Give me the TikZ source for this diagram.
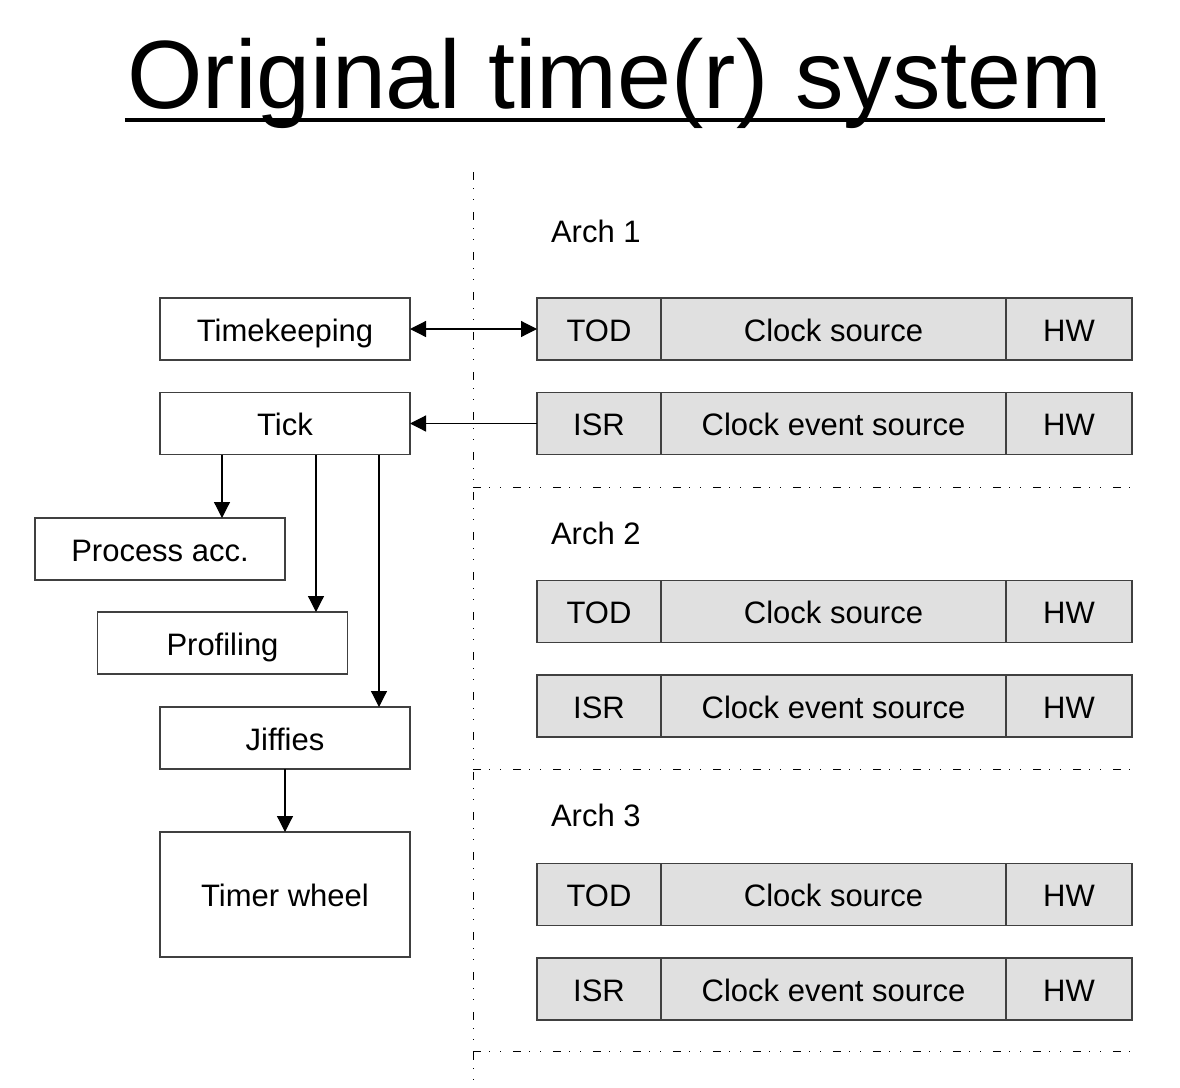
\documentclass[tikz,border=0pt]{standalone}
\usepackage{fontspec}
\setmainfont{Liberation Sans}
\usepackage{tikz}
\usetikzlibrary{positioning}
\usetikzlibrary{arrows.meta}

\begin{document}
\begin{tikzpicture}[x=0.5pt,y=-0.5pt,
  box/.style={draw=black!75,line width=0.6pt,inner sep=0pt,outer sep=0pt,minimum width=125pt,minimum height=31pt,text height=12pt,text depth=0pt,font=\fontsize{15.5}{18}\selectfont},
  part/.style={box,fill=black!12},
  conn/.style={-{Triangle[length=8pt,width=8pt]},line width=0.6pt},
  sep/.style={line width=0.5pt,dash pattern=on 4pt off 4pt on 0.6pt off 5pt on 0.6pt off 5.8pt}]
\useasboundingbox (0,0) rectangle (1180,1088);
% title
\node[anchor=base,inner sep=0pt,font=\fontsize{48.5}{58}\selectfont] (title) at (615,108) {Original time(r) system};
\draw[line width=2pt] ([xshift=-1pt,yshift=-6pt]title.base west) -- ([xshift=1pt,yshift=-6pt]title.base east);
% generic side
\node[box] at (285,329) (tk) {Timekeeping};
\node[box] at (285,423.5) (tick) {Tick};
\node[box] at (160,549) (pacc) {Process acc.};
\node[box] at (222.5,643) (prof) {Profiling};
\node[box] at (285,738) (jif) {Jiffies};
\node[box,minimum height=62.5pt] at (285,894.5) (tw) {Timer wheel};
% arch side
\node[anchor=base west,font=\fontsize{15.5}{18}\selectfont] at (544,242) (archone) {Arch 1};
\node[part,minimum width=62pt] at (599,329) (todone) {TOD};
\node[part,minimum width=172.5pt,right=0pt of todone] (csone) {Clock source};
\node[part,minimum width=63pt,right=0pt of csone] (hwone) {HW};
\node[part,minimum width=62pt] at (599,423.5) (isrone) {ISR};
\node[part,minimum width=172.5pt,right=0pt of isrone] (cesone) {Clock event source};
\node[part,minimum width=63pt,right=0pt of cesone] (hwonee) {HW};

\node[anchor=base west,font=\fontsize{15.5}{18}\selectfont] at (544,544) (archtwo) {Arch 2};
\node[part,minimum width=62pt] at (599,611.5) (todtwo) {TOD};
\node[part,minimum width=172.5pt,right=0pt of todtwo] (cstwo) {Clock source};
\node[part,minimum width=63pt,right=0pt of cstwo] (hwtwo) {HW};
\node[part,minimum width=62pt] at (599,706) (isrtwo) {ISR};
\node[part,minimum width=172.5pt,right=0pt of isrtwo] (cestwo) {Clock event source};
\node[part,minimum width=63pt,right=0pt of cestwo] (hwtwoe) {HW};

\node[anchor=base west,font=\fontsize{15.5}{18}\selectfont] at (544,826) (archthree) {Arch 3};
\node[part,minimum width=62pt] at (599,894.5) (todthree) {TOD};
\node[part,minimum width=172.5pt,right=0pt of todthree] (csthree) {Clock source};
\node[part,minimum width=63pt,right=0pt of csthree] (hwthree) {HW};
\node[part,minimum width=62pt] at (599,989) (isrthree) {ISR};
\node[part,minimum width=172.5pt,right=0pt of isrthree] (cesthree) {Clock event source};
\node[part,minimum width=63pt,right=0pt of cesthree] (hwthreee) {HW};
% separators
\draw[sep] (473,172) -- (473,1088);
\draw[sep] (473,487) -- (1130,487);
\draw[sep] (473,769) -- (1130,769);
\draw[sep] (473,1051) -- (1130,1051);
% connections
\draw[conn,{Triangle[length=8pt,width=8pt]}-{Triangle[length=8pt,width=8pt]}] (tk.east) -- (todone.west);
\draw[conn] (isrone.west) -- (tick.east);
\draw[conn] ([xshift=-31.5pt]tick.south) -- ([xshift=-31.5pt]tick.south |- pacc.north);
\draw[conn] ([xshift=15.5pt]tick.south) -- ([xshift=15.5pt]tick.south |- prof.north);
\draw[conn] ([xshift=47pt]tick.south) -- ([xshift=47pt]tick.south |- jif.north);
\draw[conn] (jif.south) -- (tw.north);
\end{tikzpicture}
\end{document}
